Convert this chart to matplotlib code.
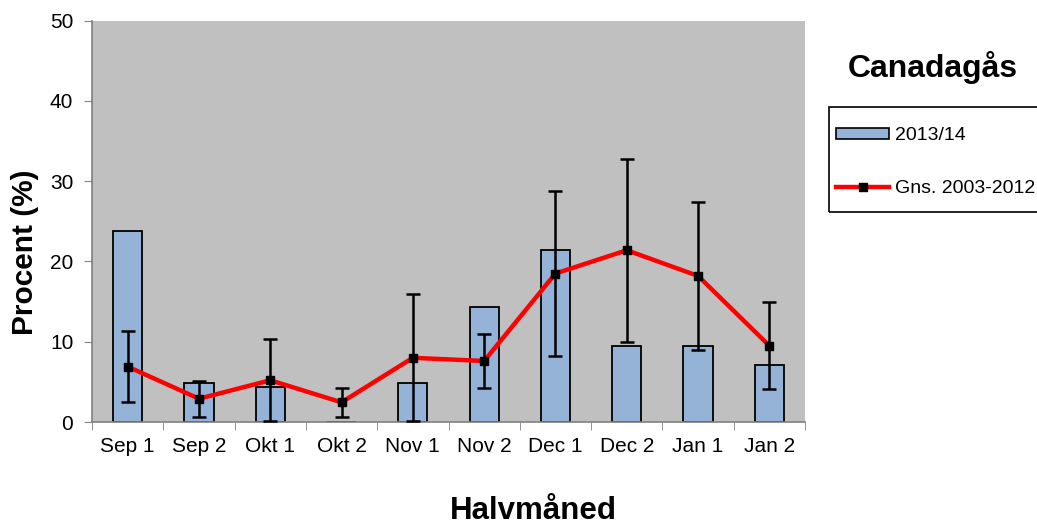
import matplotlib.pyplot as plt
from matplotlib.lines import Line2D
from matplotlib.patches import Patch, Rectangle
import numpy as np

plt.rcParams['font.family'] = ['Liberation Sans', 'DejaVu Sans']

categories = ['Sep 1', 'Sep 2', 'Okt 1', 'Okt 2', 'Nov 1', 'Nov 2',
              'Dec 1', 'Dec 2', 'Jan 1', 'Jan 2']
season_2013 = [23.8, 4.8, 4.4, 0.0, 4.8, 14.3, 21.4, 9.5, 9.5, 7.1]
avg_2003_2012 = [6.9, 2.9, 5.2, 2.45, 8.0, 7.6, 18.5, 21.4, 18.2, 9.5]
avg_err = [4.4, 2.25, 5.1, 1.8, 7.9, 3.4, 10.3, 11.4, 9.25, 5.45]

W, H = 1037, 523
fig = plt.figure(figsize=(W / 100, H / 100), dpi=100)
ax = fig.add_axes([92 / W, 1 - 422 / H, (805 - 92) / W, (422 - 20.7) / H])
ax.set_facecolor('#c0c0c0')

x = np.arange(len(categories))
ax.bar(x, season_2013, width=0.41, color='#95b3d7', edgecolor='black',
       linewidth=1.3, zorder=2)
ax.plot(x, avg_2003_2012, color='#ff0000', linewidth=3.2, zorder=3)
ax.errorbar(x, avg_2003_2012, yerr=avg_err, fmt='none', ecolor='black',
            elinewidth=1.8, capsize=5, capthick=1.8, zorder=4)
ax.plot(x, avg_2003_2012, linestyle='none', marker='s', markersize=5.5,
        color='black', zorder=5)

ax.set_xlim(-0.5, len(categories) - 0.5)
ax.set_ylim(0, 50)
ax.set_yticks(range(0, 51, 10))
ax.set_xticks(x)
ax.set_xticklabels(categories, fontsize=15)
ax.tick_params(axis='x', length=0, pad=11)
ax.set_xticks(np.arange(-0.5, len(categories), 1), minor=True)
ax.tick_params(axis='x', which='minor', length=6, color='#808080', direction='out')
ax.tick_params(axis='y', labelsize=15, length=6, color='#808080', pad=7.5)
for s in ['top', 'right']:
    ax.spines[s].set_visible(False)
for s in ['left', 'bottom']:
    ax.spines[s].set_color('#808080')
    ax.spines[s].set_linewidth(1.2)

fig.text(25 / W, 1 - 252 / H, 'Procent (%)', rotation=90, fontsize=21.5,
         fontweight='bold', ha='center', va='center')
fig.text(533 / W, 1 - 519 / H, 'Halvmåned', fontsize=22.5,
         fontweight='bold', ha='center', va='baseline')
fig.text(933 / W, 1 - 68 / H, 'Canadagås', fontsize=23,
         fontweight='bold', ha='center', va='center')

# legend frame runs past the right edge like the original
fig.patches.append(Rectangle((829 / W, 1 - 212 / H), 230 / W, 105 / H,
                             transform=fig.transFigure, fill=False,
                             edgecolor='black', linewidth=1.2))
handles = [Patch(facecolor='#95b3d7', edgecolor='black', linewidth=1.2),
           Line2D([0], [0], color='#ff0000', linewidth=3.2, marker='s',
                  markersize=5.5, markerfacecolor='black', markeredgecolor='black')]
fig.legend(handles, ['2013/14', 'Gns. 2003-2012'], loc='upper left',
           bbox_to_anchor=(836 / W, 1 - 127 / H), fontsize=14,
           frameon=False, handlelength=2.73, handleheight=0.5,
           handletextpad=0.3, labelspacing=1.86, borderpad=0,
           borderaxespad=0, numpoints=1)

fig.savefig('out.png', dpi=100)
